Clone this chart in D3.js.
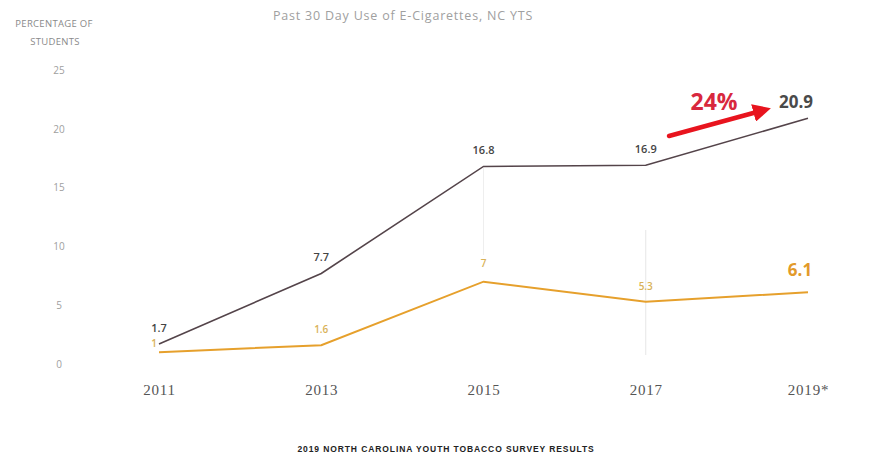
<!DOCTYPE html>
<html>
<head>
<meta charset="utf-8">
<script src="https://cdn.jsdelivr.net/npm/d3@7"></script>
<style>
  body { margin: 0; background: #fff; }
  svg { display: block; }
</style>
</head>
<body>
<div id="chart"></div>
<script>
const years = ['2011', '2013', '2015', '2017', '2019*'];
const highSchool = [1.7, 7.7, 16.8, 16.9, 20.9];
const middleSchool = [1, 1.6, 7, 5.3, 6.1];
const highLabels = ['1.7', '7.7', '16.8', '16.9', '20.9'];
const middleLabels = ['1', '1.6', '7', '5.3', '6.1'];
const yTicks = [0, 5, 10, 15, 20, 25];
const changeLabel = '24%';

const width = 881;
const height = 456;

const svg = d3.select('#chart')
    .append('svg')
    .attr('width', width)
    .attr('height', height);

const x = d3.scalePoint()
    .domain(years)
    .range([159, 808]);

const y = d3.scaleLinear()
    .domain([0, 25])
    .range([364, 70]);

const darkColor = '#54444a';
const orangeColor = '#e6a02c';

// title
svg.append('text')
    .attr('x', 403).attr('y', 20)
    .attr('text-anchor', 'middle')
    .attr('font-family', 'Open Sans, sans-serif')
    .attr('font-size', 12.5)
    .attr('letter-spacing', 0.8)
    .attr('fill', '#a0a0a0')
    .text('Past 30 Day Use of E-Cigarettes, NC YTS');

// y axis title
svg.append('text')
    .attr('x', 54).attr('y', 27)
    .attr('text-anchor', 'middle')
    .attr('font-family', 'Open Sans, sans-serif')
    .attr('font-size', 9.5)
    .attr('letter-spacing', 0.3)
    .attr('fill', '#8a8a8a')
    .text('PERCENTAGE OF');
svg.append('text')
    .attr('x', 55).attr('y', 45)
    .attr('text-anchor', 'middle')
    .attr('font-family', 'Open Sans, sans-serif')
    .attr('font-size', 9.5)
    .attr('letter-spacing', 0.3)
    .attr('fill', '#8a8a8a')
    .text('STUDENTS');

// y axis, labels only
const yAxis = d3.axisLeft(y).tickValues(yTicks).tickSize(0).tickPadding(0);
svg.append('g')
    .attr('transform', 'translate(59,0)')
    .call(yAxis)
    .call(g => g.select('.domain').remove())
    .call(g => g.selectAll('text')
        .attr('text-anchor', 'middle')
        .attr('font-family', 'Open Sans, sans-serif')
        .attr('font-size', 10)
        .attr('fill', '#a0a0a0'));

// x axis, labels only
const xAxis = d3.axisBottom(x).tickSize(0).tickPadding(0);
svg.append('g')
    .attr('transform', 'translate(0,384)')
    .call(xAxis)
    .call(g => g.select('.domain').remove())
    .call(g => g.selectAll('text')
        .attr('font-family', 'Liberation Serif, serif')
        .attr('font-size', 15)
        .attr('letter-spacing', 0.8)
        .attr('fill', '#555'));

// faint vertical guides
svg.append('line')
    .attr('x1', x('2017')).attr('x2', x('2017'))
    .attr('y1', 230).attr('y2', 355)
    .attr('stroke', '#e6e6e6').attr('stroke-width', 1);
svg.append('line')
    .attr('x1', x('2015')).attr('x2', x('2015'))
    .attr('y1', 168).attr('y2', 255)
    .attr('stroke', '#eeeeee').attr('stroke-width', 1);

const line = d3.line()
    .x((d, i) => x(years[i]))
    .y(d => y(d));

svg.append('path')
    .datum(middleSchool)
    .attr('d', line)
    .attr('fill', 'none')
    .attr('stroke', orangeColor)
    .attr('stroke-width', 2);

svg.append('path')
    .datum(highSchool)
    .attr('d', line)
    .attr('fill', 'none')
    .attr('stroke', darkColor)
    .attr('stroke-width', 1.6);

// data labels
svg.append('g').selectAll('text')
    .data(highSchool)
    .enter()
    .append('text')
    .attr('x', (d, i) => i === 4 ? x(years[i]) - 12 : x(years[i]))
    .attr('y', (d, i) => i === 4 ? y(d) - 10 : y(d) - 12)
    .attr('text-anchor', 'middle')
    .attr('font-family', 'Open Sans, sans-serif')
    .attr('font-weight', (d, i) => i === 4 ? 700 : 600)
    .attr('font-size', (d, i) => i === 4 ? 17 : 11)
    .attr('fill', (d, i) => i === 4 ? '#4a4a4a' : '#444')
    .text((d, i) => highLabels[i]);

const midOffsets = [[-5, -5], [0, -12], [0, -15], [0, -12], [-8, -16]];
svg.append('g').selectAll('text')
    .data(middleSchool)
    .enter()
    .append('text')
    .attr('x', (d, i) => x(years[i]) + midOffsets[i][0])
    .attr('y', (d, i) => y(d) + midOffsets[i][1])
    .attr('text-anchor', 'middle')
    .attr('font-family', 'Open Sans, sans-serif')
    .attr('font-weight', (d, i) => i === 4 ? 700 : 600)
    .attr('font-size', (d, i) => i === 4 ? 17 : 10)
    .attr('fill', (d, i) => i === 4 ? '#e29a2a' : '#d9b258')
    .text((d, i) => middleLabels[i]);

// change annotation: arrow + percentage
const defs = svg.append('defs');
defs.append('marker')
    .attr('id', 'arrowHead')
    .attr('viewBox', '0 0 10 10')
    .attr('refX', 2).attr('refY', 5)
    .attr('markerWidth', 4).attr('markerHeight', 4)
    .attr('orient', 'auto')
    .append('path')
    .attr('d', 'M0,0 L10,5 L0,10 z')
    .attr('fill', '#e8141e');

svg.append('line')
    .attr('x1', 669).attr('y1', 136)
    .attr('x2', 757).attr('y2', 112)
    .attr('stroke', '#e8141e')
    .attr('stroke-width', 4.5)
    .attr('stroke-linecap', 'round')
    .attr('marker-end', 'url(#arrowHead)');

svg.append('text')
    .attr('x', 714).attr('y', 110)
    .attr('text-anchor', 'middle')
    .attr('font-family', 'Open Sans, sans-serif')
    .attr('font-weight', 700)
    .attr('font-size', 23)
    .attr('fill', '#d8283e')
    .text(changeLabel);

// footer
svg.append('text')
    .attr('x', 446).attr('y', 452)
    .attr('text-anchor', 'middle')
    .attr('font-family', 'Liberation Sans, Arial, sans-serif')
    .attr('font-weight', 700)
    .attr('font-size', 8.5)
    .attr('letter-spacing', 0.9)
    .attr('fill', '#222')
    .text('2019 NORTH CAROLINA YOUTH TOBACCO SURVEY RESULTS');
</script>
</body>
</html>
